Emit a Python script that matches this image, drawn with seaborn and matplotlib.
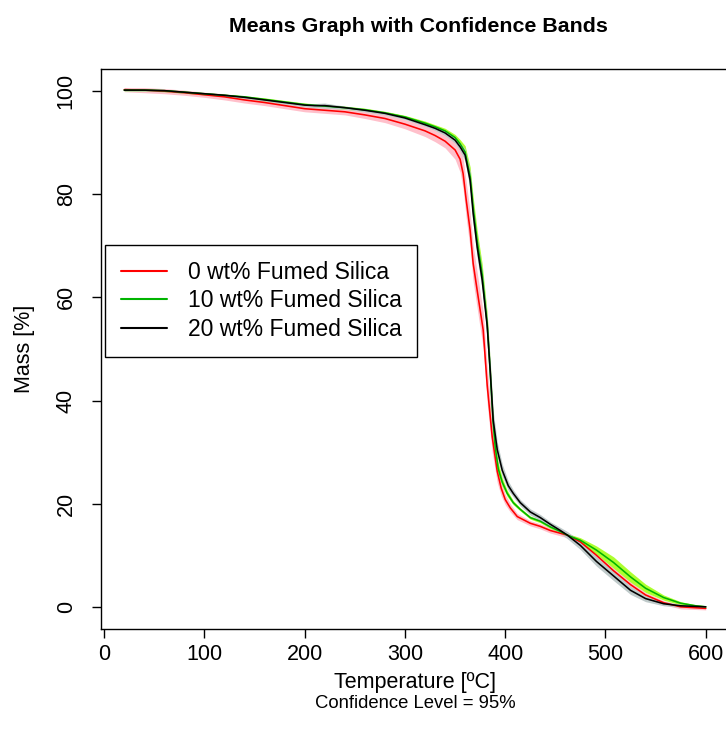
import matplotlib
matplotlib.use("Agg")
import matplotlib.pyplot as plt
import numpy as np
import pandas as pd
import seaborn as sns

# ---------------- data ----------------
labels = ["0 wt% Fumed Silica", "10 wt% Fumed Silica", "20 wt% Fumed Silica"]

temp_0 = [20, 40, 60, 80, 100, 120, 140, 160, 180, 200, 220, 240, 260, 280, 300,
          320, 330, 340, 350, 355, 358, 361, 365, 368, 373, 378, 382, 387, 392, 396,
          400, 405, 412, 425, 435, 445, 462, 475, 491, 508, 525, 540, 558, 575, 600]
mass_0 = [100.3, 100.2, 100.0, 99.7, 99.3, 98.9, 98.3, 97.8, 97.2, 96.6, 96.3, 96.0, 95.4, 94.7, 93.6,
          92.3, 91.4, 90.3, 88.6, 86.8, 84.0, 79.0, 73.0, 66.6, 60.1, 53.7, 43.0, 33.0, 26.3, 23.0,
          20.8, 19.2, 17.5, 16.2, 15.6, 14.8, 13.9, 12.6, 10.0, 7.0, 4.3, 2.3, 0.8, 0.0, -0.3]
ci_0 = [0.4, 0.5, 0.5, 0.5, 0.5, 0.6, 0.6, 0.6, 0.6, 0.6, 0.6, 0.6, 0.7, 0.8, 0.9,
        1.1, 1.2, 1.3, 1.8, 2.5, 3.0, 3.5, 3.5, 3.5, 3.5, 3.5, 3.5, 3.0, 2.2, 1.5,
        1.0, 0.8, 0.6, 0.5, 0.5, 0.5, 0.5, 0.5, 0.6, 0.7, 0.6, 0.5, 0.4, 0.4, 0.3]

temp_10 = [20, 40, 60, 80, 100, 120, 140, 160, 180, 200, 220, 240, 260, 280, 300,
           320, 330, 340, 350, 355, 360, 365, 368, 372, 377, 382, 385, 388, 390, 393,
           397, 402, 408, 415, 425, 435, 445, 455, 462, 475, 491, 508, 525, 540, 558,
           575, 590, 600]
mass_10 = [100.2, 100.2, 100.1, 99.8, 99.5, 99.2, 98.9, 98.4, 97.9, 97.4, 97.1, 96.8, 96.4, 95.8, 95.0,
           93.8, 93.1, 92.3, 91.0, 89.8, 88.2, 83.5, 77.5, 71.0, 64.5, 55.0, 45.5, 35.5, 31.0, 26.8,
           24.2, 22.0, 20.2, 18.9, 17.3, 16.6, 15.5, 14.6, 13.9, 12.9, 11.0, 8.6, 5.8, 3.6, 1.8,
           0.7, 0.2, 0.0]
ci_10 = [0.2, 0.2, 0.2, 0.2, 0.2, 0.2, 0.2, 0.3, 0.3, 0.3, 0.3, 0.3, 0.3, 0.3, 0.3,
         0.4, 0.4, 0.5, 0.6, 0.8, 1.2, 1.8, 2.0, 2.0, 2.0, 2.0, 2.0, 1.8, 1.5, 1.2,
         0.8, 0.6, 0.4, 0.3, 0.3, 0.3, 0.3, 0.3, 0.3, 0.5, 0.8, 1.1, 1.0, 0.8, 0.5,
         0.3, 0.2, 0.2]

temp_20 = [20, 40, 60, 80, 100, 120, 140, 160, 180, 200, 210, 220, 230, 240, 260,
           280, 300, 320, 330, 340, 350, 355, 360, 365, 368, 372, 377, 382, 385, 388,
           392, 397, 403, 408, 415, 425, 435, 445, 455, 462, 475, 491, 508, 525, 540,
           558, 575, 600]
mass_20 = [100.2, 100.2, 100.1, 99.8, 99.5, 99.2, 98.8, 98.3, 97.8, 97.3, 97.2, 97.2, 97.0, 96.8, 96.3,
           95.7, 94.8, 93.5, 92.8, 91.9, 90.5, 89.2, 87.6, 82.7, 76.3, 69.8, 63.4, 54.5, 45.9, 36.2,
           30.5, 26.5, 23.5, 22.0, 20.2, 18.4, 17.3, 16.0, 14.8, 13.9, 11.9, 8.8, 6.0, 3.2, 1.6,
           0.6, 0.2, 0.0]
ci_20 = [0.2, 0.2, 0.2, 0.2, 0.2, 0.2, 0.2, 0.2, 0.3, 0.3, 0.4, 0.5, 0.4, 0.3, 0.3,
         0.3, 0.3, 0.3, 0.4, 0.5, 0.6, 0.8, 1.2, 1.8, 2.0, 2.0, 2.0, 2.0, 2.0, 1.8,
         1.5, 1.2, 0.9, 0.7, 0.6, 0.6, 0.6, 0.5, 0.6, 0.7, 0.8, 0.9, 0.9, 0.8, 0.6,
         0.4, 0.3, 0.2]

x_ticks = [0, 100, 200, 300, 400, 500, 600]
y_ticks = [0, 20, 40, 60, 80, 100]

line_colors = ["#FF0000", "#00B400", "#000000"]
band_colors = ["#FFC0CB", "#ADFF2F", "#BFCACA"]

# ---------------- build tidy frame ----------------
series = [(temp_0, mass_0, ci_0), (temp_10, mass_10, ci_10), (temp_20, mass_20, ci_20)]
frames = []
for lab, (t, m, c) in zip(labels, series):
    frames.append(pd.DataFrame({"Temperature": t, "Mass": m, "CI": c, "Sample": lab}))
df = pd.concat(frames, ignore_index=True)

# ---------------- figure ----------------
sns.set_theme(style="white")
plt.rcParams["font.family"] = ["Liberation Sans", "DejaVu Sans"]

W, H = 726, 740
fig = plt.figure(figsize=(W / 100, H / 100), dpi=100)
left_px, right_px, top_px, bottom_px = 101, 729, 69, 629
ax = fig.add_axes([left_px / W, 1 - bottom_px / H,
                   (right_px - left_px) / W, (bottom_px - top_px) / H])

# confidence bands
for lab, bc in zip(labels, band_colors):
    d = df[df["Sample"] == lab]
    ax.fill_between(d["Temperature"], d["Mass"] - d["CI"], d["Mass"] + d["CI"],
                    color=bc, linewidth=0, zorder=1)

sns.lineplot(data=df, x="Temperature", y="Mass", hue="Sample", hue_order=labels,
             palette=line_colors, estimator=None, sort=False, errorbar=None,
             linewidth=1.15, ax=ax, zorder=3)

ax.set_xlim(-3.2, 623.2)
ax.set_ylim(-4.3, 104.3)
ax.set_xticks(x_ticks)
ax.set_yticks(y_ticks)
ax.set_xticklabels([str(v) for v in x_ticks])
ax.set_yticklabels([str(v) for v in y_ticks], rotation=90, va="center")

for sp in ax.spines.values():
    sp.set_visible(True)
    sp.set_color("black")
    sp.set_linewidth(1.0)

ax.tick_params(axis="both", which="both", direction="out", length=6.5, width=1.0,
               color="black", labelsize=15.5, labelcolor="black",
               bottom=True, left=True)
ax.tick_params(axis="x", pad=4)
ax.tick_params(axis="y", pad=11)
ax.grid(False)

ax.set_xlabel("Temperature [ºC]", fontsize=15.5, labelpad=5, color="black")
ax.set_ylabel("Mass [%]", fontsize=15.5, labelpad=15, color="black")

fig.text(418 / W, 1 - 26 / H, "Means Graph with Confidence Bands",
         ha="center", va="center", fontsize=15.4, fontweight="bold", color="black")
fig.text(415 / W, 1 - 704 / H, "Confidence Level = 95%",
         ha="center", va="center", fontsize=13.3, color="black")

handles, labs = ax.get_legend_handles_labels()
leg = ax.legend(handles, labs, loc="upper left",
                bbox_to_anchor=((105 - left_px) / (right_px - left_px),
                                (bottom_px - 245) / (bottom_px - top_px)),
                borderaxespad=0, fontsize=16.5, frameon=True, fancybox=False,
                edgecolor="black", framealpha=1, handlelength=2.0,
                handletextpad=0.9, labelspacing=0.23, borderpad=0.7)
leg.get_frame().set_linewidth(1.0)
for t in leg.get_texts():
    t.set_color("black")
for ln in leg.get_lines():
    ln.set_linewidth(1.5)

fig.savefig("out.png", dpi=100)
